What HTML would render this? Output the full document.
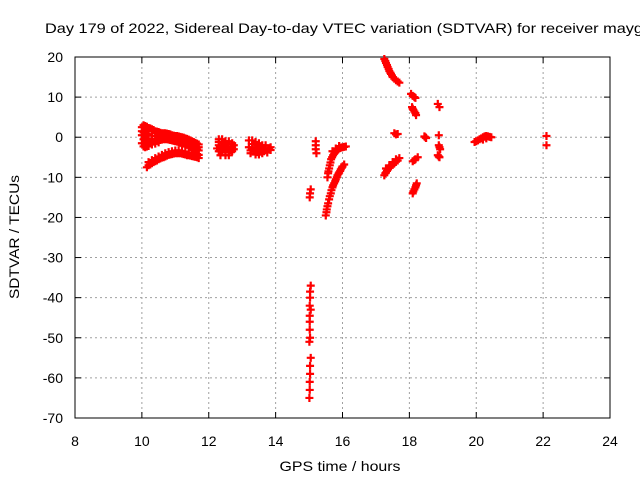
<!DOCTYPE html>
<html><head><meta charset="utf-8"><style>
html,body{margin:0;padding:0;background:#fff;}
svg{display:block;font-family:"Liberation Sans",sans-serif;}
</style></head><body>
<svg id="chart" width="640" height="480" viewBox="0 0 640 480" xmlns="http://www.w3.org/2000/svg">
<rect width="640" height="480" fill="#fff"/>
<text x="45" y="33" font-size="14" fill="#000" textLength="598" lengthAdjust="spacingAndGlyphs">Day 179 of 2022, Sidereal Day-to-day VTEC variation (SDTVAR) for receiver mayg</text>
<g id="grid"></g>
<g id="axes"></g>
<g id="marks"></g>
<text x="340" y="471" font-size="14" text-anchor="middle" textLength="121" lengthAdjust="spacingAndGlyphs">GPS time / hours</text>
<text transform="translate(19,237) rotate(-90)" font-size="14" text-anchor="middle" textLength="124" lengthAdjust="spacingAndGlyphs">SDTVAR / TECUs</text>
</svg>
<script>
const xTicks=[8,10,12,14,16,18,20,22,24];
const yTicks=[20,10,0,-10,-20,-30,-40,-50,-60,-70];
const bandUpper=[[10.0,2.5],[10.05,3],[10.1,2.8],[10.15,2.6],[10.2,2.3],[10.25,2.2],[10.3,2],[10.35,1.8],[10.4,1.5],[10.45,1.4],[10.5,1.3],[10.55,1.1],[10.6,1],[10.65,1],[10.7,1],[10.75,0.9],[10.8,0.8],[10.85,0.7],[10.9,0.5],[10.95,0.4],[11.0,0.3],[11.05,0.3],[11.1,0.2],[11.15,0.1],[11.2,0],[11.25,-0.1],[11.3,-0.3],[11.35,-0.4],[11.4,-0.6],[11.45,-0.8],[11.5,-1],[11.55,-1.2],[11.6,-1.4],[11.65,-1.6],[11.7,-1.8]];
const bandMiddle=[[10.0,0.5],[10.05,-0.5],[10.1,-0.8],[10.15,-0.9],[10.2,-1],[10.25,-1.1],[10.3,-1.2],[10.35,-1.1],[10.4,-1],[10.45,-0.9],[10.5,-0.8],[10.55,-0.7],[10.6,-0.6],[10.65,-0.5],[10.7,-0.5],[10.75,-0.5],[10.8,-0.6],[10.85,-0.7],[10.9,-0.8],[10.95,-0.9],[11.0,-1],[11.05,-1.1],[11.1,-1.3],[11.15,-1.4],[11.2,-1.5],[11.25,-1.6],[11.3,-1.8],[11.35,-1.9],[11.4,-2],[11.45,-2.2],[11.5,-2.5],[11.55,-2.7],[11.6,-3],[11.65,-3.1],[11.7,-3.3]];
const bandFill=[[10.0,1.5],[10.05,1.2],[10.1,1],[10.15,0.8],[10.2,0.6],[10.3,0.4],[10.4,0.3],[10.5,0.2],[10.6,0.2],[10.7,0.2],[10.8,0.1],[10.9,-0.1],[11.0,-0.3],[11.1,-0.5],[11.2,-0.7],[11.3,-1],[11.4,-1.3],[11.5,-1.7],[11.6,-2.2],[11.7,-2.5]];
const bandLower=[[10.0,-1.5],[10.05,-2.3],[10.1,-2.5],[10.15,-2.3],[10.2,-2.2],[10.3,-1.8],[10.4,-1.6],[10.5,-1.3],[11.5,-3.2],[11.6,-3.8],[11.65,-4.2]];
const lowerArc=[[10.15,-7.5],[10.2,-7],[10.25,-6.8],[10.3,-6.5],[10.35,-6.2],[10.4,-6],[10.45,-5.8],[10.5,-5.5],[10.55,-5.3],[10.6,-5.1],[10.65,-5],[10.7,-4.8],[10.75,-4.6],[10.8,-4.4],[10.85,-4.3],[10.9,-4.2],[10.95,-4.1],[11.0,-4],[11.05,-4],[11.1,-4],[11.15,-4],[11.2,-4.1],[11.25,-4.2],[11.3,-4.3],[11.35,-4.5],[11.4,-4.5],[11.45,-4.6],[11.5,-4.7],[11.55,-4.8],[11.6,-4.9],[11.65,-5],[11.7,-5.2]];
const lowerArc2=[[10.2,-6.2],[10.3,-5.7],[10.4,-5.2],[10.5,-4.8],[10.6,-4.4],[10.7,-4],[10.8,-3.7],[10.9,-3.5],[11.0,-3.3],[11.1,-3.3],[11.2,-3.4],[11.3,-3.6],[11.4,-3.8],[11.5,-4],[11.6,-4.2],[11.7,-4.4]];
const cluster125=[[12.3,-0.5],[12.4,-0.5],[12.5,-1],[12.6,-1],[12.7,-1.5],[12.3,-1.2],[12.45,-1.5],[12.55,-1.8],[12.3,-2],[12.4,-2],[12.5,-2.5],[12.6,-2.5],[12.7,-2.5],[12.25,-2.8],[12.35,-3],[12.45,-3],[12.55,-3],[12.65,-3.2],[12.3,-3.5],[12.4,-3.5],[12.5,-3.8],[12.6,-3.5],[12.7,-3.5],[12.35,-4.5],[12.5,-4.5],[12.6,-4.5],[12.75,-3],[12.75,-2]];
const cluster135=[[13.2,-0.8],[13.3,-0.8],[13.4,-1.2],[13.5,-1.5],[13.6,-2],[13.7,-2],[13.85,-2.5],[13.3,-1.7],[13.45,-2],[13.55,-2.3],[13.2,-2.5],[13.3,-2.5],[13.4,-3],[13.5,-3],[13.6,-3],[13.7,-3],[13.85,-3.2],[13.25,-3.3],[13.35,-3.5],[13.45,-3.7],[13.55,-3.6],[13.65,-3.5],[13.25,-4],[13.4,-4.3],[13.5,-4.3],[13.6,-4],[13.75,-3.8],[13.8,-2.8]];
const near15=[[15.2,-1],[15.2,-2],[15.2,-3],[15.22,-4],[15.05,-13],[15.03,-14],[15.02,-15]];
const vertical15=[[15.05,-37],[15.03,-38.5],[15.03,-40],[15.02,-42],[15.05,-43],[15.02,-44.5],[15.02,-46],[15.02,-48],[15.03,-50],[15.01,-51],[15.05,-55],[15.03,-57],[15.03,-59],[15.02,-61],[15.02,-63],[15.01,-65]];
const curveA=[[15.55,-10],[15.57,-9],[15.58,-8.5],[15.6,-7.8],[15.62,-7],[15.64,-6.3],[15.66,-5.5],[15.69,-5],[15.72,-4.5],[15.75,-4.1],[15.78,-3.8],[15.82,-3.4],[15.85,-3],[15.9,-2.8],[15.92,-2.7],[15.96,-2.6],[16.0,-2.5],[16.05,-2.4],[16.1,-2.3],[15.7,-3.5],[15.8,-2.8],[15.9,-2.2]];
const curveB=[[15.5,-19.5],[15.52,-18.7],[15.53,-18],[15.55,-17.2],[15.57,-16.5],[15.6,-15.5],[15.62,-14.7],[15.65,-14],[15.67,-13.2],[15.7,-12.5],[15.72,-12],[15.75,-11.5],[15.78,-11],[15.8,-10.5],[15.83,-10],[15.85,-9.5],[15.88,-9.1],[15.9,-8.8],[15.93,-8.4],[15.95,-8],[15.98,-7.6],[16.0,-7.3],[16.05,-6.8]];
const late=[[17.25,19.5],[17.28,19],[17.3,18.5],[17.33,18],[17.35,17.5],[17.38,17],[17.4,16.5],[17.43,16.1],[17.45,15.8],[17.48,15.4],[17.5,15],[17.55,14.6],[17.6,14.2],[17.65,13.9],[17.7,13.6],
[18.05,10.8],[18.1,10.3],[18.15,10],[18.18,9.8],[18.08,7.5],[18.1,7.1],[18.12,6.8],[18.15,6.4],[18.18,6],[18.2,5.5],
[17.55,1],[17.6,0.7],[17.65,0.8],[18.45,0.2],[18.5,-0.2],[18.48,0],[18.85,8.3],[18.9,7.5],[18.88,0.5],
[18.88,-2],[18.9,-2.5],[18.92,-3],[18.85,-4.5],[18.88,-4.8],[18.9,-5],[18.1,-6],[18.15,-5.7],[18.18,-5.5],[18.25,-5],
[17.25,-9.5],[17.28,-9],[17.3,-8.8],[17.33,-8.4],[17.35,-8],[17.4,-7.6],[17.45,-7.3],[17.5,-6.9],[17.55,-6.5],[17.6,-6.1],[17.65,-5.8],[17.7,-5.2],[17.3,-7.8],[17.4,-7],[17.5,-6.2],[17.6,-5.5],
[18.1,-14],[18.12,-13.5],[18.15,-13],[18.18,-12.5],[18.2,-12],[18.22,-11.5],
[19.95,-1.2],[20.0,-1],[20.05,-0.8],[20.1,-0.5],[20.15,-0.3],[20.2,0],[20.25,0.2],[20.3,0.3],[20.35,0.2],[20.4,0.1],[20.45,0],[20.2,-0.6],[20.3,-0.3],[22.1,0.3],[22.1,-2]];
const series=[bandUpper,bandMiddle,bandFill,bandLower,lowerArc,lowerArc2,cluster125,cluster135,near15,vertical15,curveA,curveB,late];

const L=75,R=610,T=57,B=418,xMin=8,xMax=24,yMin=-70,yMax=20;
const sx=v=>L+(v-xMin)/(xMax-xMin)*(R-L);
const sy=v=>B-(v-yMin)/(yMax-yMin)*(B-T);
const NS="http://www.w3.org/2000/svg";
function mk(tag,attrs,parent){const e=document.createElementNS(NS,tag);for(const k in attrs)e.setAttribute(k,attrs[k]);parent.appendChild(e);return e;}
const grid=document.getElementById('grid'),axes=document.getElementById('axes'),marks=document.getElementById('marks');
xTicks.forEach(t=>{
  const x=sx(t);
  if(t>xMin&&t<xMax){const g=mk('line',{x1:x,x2:x,y1:T,y2:B,stroke:'#a0a0a0','stroke-dasharray':'2,3'},grid);
  
  }
  mk('line',{x1:x,x2:x,y1:B,y2:B-6,stroke:'#000'},axes);
  mk('line',{x1:x,x2:x,y1:T,y2:T+6,stroke:'#000'},axes);
  const lb=mk('text',{x:x,y:446,'font-size':14,'text-anchor':'middle'},axes);lb.textContent=t;
  
  
});
yTicks.forEach(t=>{
  const y=sy(t);
  if(t>yMin&&t<yMax){const g=mk('line',{x1:L,x2:R,y1:y,y2:y,stroke:'#a0a0a0','stroke-dasharray':'2,3'},grid);
  
  }
  mk('line',{x1:L,x2:L+6,y1:y,y2:y,stroke:'#000'},axes);
  mk('line',{x1:R,x2:R-6,y1:y,y2:y,stroke:'#000'},axes);
  const lb=mk('text',{x:63,y:y+5,'font-size':14,'text-anchor':'end'},axes);lb.textContent=t;
  
  
});
const box=mk('rect',{x:L,y:T,width:R-L,height:B-T,fill:'none',stroke:'#000'},axes);


series.forEach(s=>s.forEach(p=>{
  const x=sx(p[0]),y=sy(p[1]);
  const m=mk('path',{d:`M${x-4},${y}H${x+4}M${x},${y-4}V${y+4}`,stroke:'#ff0000','stroke-width':2.2,fill:'none'},marks);
  
  
}));
</script>
</body></html>
